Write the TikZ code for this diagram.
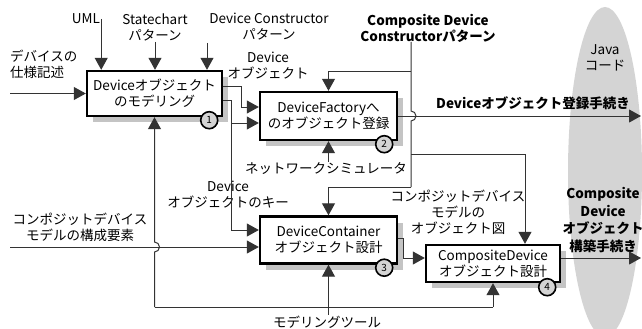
\documentclass[tikz,border=0pt]{standalone}
\usepackage{fontspec}
\setmainfont{Noto Sans CJK JP}
\usetikzlibrary{calc,arrows.meta,shadows}
\definecolor{wire}{HTML}{333333}
\definecolor{halftone}{HTML}{D4D4D4}
\definecolor{shadowgray}{HTML}{C4C4C4}
\newcommand{\dgmfont}{\fontsize{13.5}{16}\selectfont}

\begin{document}
\begin{tikzpicture}[x=1pt, y=-1pt, >={Triangle[length=12pt, width=13pt]},
    wire/.style={draw=wire, line width=1pt},
    flow/.style={wire, ->},
    activity/.style={draw=black, line width=2.4pt, fill=white, align=center, inner sep=1pt,
        font=\dgmfont, drop shadow={shadow xshift=6pt, shadow yshift=-6pt, fill=shadowgray, opacity=1}},
    num/.style={circle, draw=black, line width=1.6pt, fill=halftone, minimum size=17pt,
        inner sep=0pt, font=\fontsize{10}{10}\selectfont},
    lab/.style={align=center, font=\dgmfont, inner sep=1pt},
    blab/.style={align=center, font=\dgmfont\bfseries, inner sep=1pt}]
    \useasboundingbox (0,0) rectangle (642,329);

    % Java code region
    \fill[halftone] (605,172) ellipse [x radius=37, y radius=165];
    \node[lab] (java) at (605,58) {Java\\コード};

    % activities
    \node[activity, minimum width=135pt, minimum height=45pt] (b1) at (154.5,93.5) {Deviceオブジェクト\\のモデリング};
    \node[activity, minimum width=137pt, minimum height=48pt] (b2) at (328.5,116) {DeviceFactoryへ\\のオブジェクト登録};
    \node[activity, minimum width=137pt, minimum height=47pt] (b3) at (328.5,240) {DeviceContainer\\オブジェクト設計};
    \node[activity, minimum width=134pt, minimum height=37pt] (b4) at (493,263.5) {CompositeDevice\\オブジェクト設計};

    \node[num] (n1) at ($(b1.south east)+(-14,3)$) {1};
    \node[num] (n2) at ($(b2.south east)+(-14,3)$) {2};
    \node[num] (n3) at ($(b3.south east)+(-14,3)$) {3};
    \node[num] (n4) at ($(b4.south east)+(-14,4)$) {4};

    % labels
    \node[lab] (uml) at (86,19) {UML};
    \node[lab] (stc) at (155,27) {Statechart\\パターン};
    \node[lab] (dcp) at (269,27) {Device Constructor\\パターン};
    \node[blab] (cdcp) at (428,28) {Composite Device\\Constructorパターン};
    \node[lab, align=left, anchor=west] (spec) at (9,64) {デバイスの\\仕様記述};
    \node[lab] (devobj) at (268,66) {Device\\オブジェクト};
    \node[lab] (netsim) at (326,169) {ネットワークシミュレータ};
    \node[lab] (devkey) at (228,195) {Device\\オブジェクトのキー};
    \node[lab] (cdparts) at (80,227) {コンポジットデバイス\\モデルの構成要素};
    \node[lab] (cdobj) at (458,212) {コンポジットデバイス\\モデルの\\オブジェクト図};
    \node[blab] (regproc) at (533,103) {Deviceオブジェクト登録手続き};
    \node[blab, font=\fontsize{13.5}{17.5}\selectfont\bfseries] (cdproc) at (603,220) {Composite\\Device\\オブジェクト\\構築手続き};
    \node[lab] (tool) at (327,322) {モデリングツール};

    % controls into b1
    \draw[flow] (uml.east) -- (uml.east |- b1.north);
    \draw[flow] (stc.south) -- (stc.south |- b1.north);
    \coordinate (dcin) at (207,43);
    \draw[flow] (dcin) -- (dcin |- b1.north);
    \coordinate (specin) at (10,93.5);
    \draw[flow] (specin) -- (b1.west);

    % outputs of b1
    \draw[flow] ($(b1.east)+(0,-7.5)$) -- ++(18,0) |- ($(b2.west)+(0,-9)$);
    \draw[flow] ($(b1.east)+(0,7)$) -- ++(8,0) coordinate (keysplit) |- ($(b2.west)+(0,7)$);
    \draw[flow] (keysplit) |- ($(b3.west)+(0,-10)$);

    % composite device constructor pattern
    \coordinate (cdc) at (411,42);
    \coordinate (tap2) at (411,71);
    \coordinate (tap4) at (411,154);
    \coordinate (cdcend) at (411,187);
    \draw[wire] (cdc) -- ($(cdc |- b2.east)+(0,-5)$) arc[start angle=-90, end angle=90, radius=5] -- (cdcend);
    \draw[flow] (tap2) -| (b2.north);
    \draw[flow] (tap4) -| ($(b4.north)+(32,0)$);
    \draw[flow] (cdcend) -| (b3.north);

    \draw[flow] (netsim.north -| b2.south) -- (b2.south);
    \coordinate (javain1) at (641,116);
    \draw[flow] (b2.east) -- (javain1);

    % b3 and b4
    \coordinate (partsin) at (10,247);
    \draw[flow] (partsin) -- ($(b3.west)+(0,7)$);
    \draw[flow] ($(b3.east)+(0,-2)$) -- ++(5,0) |- ($(b4.west)+(0,-5.5)$);
    \coordinate (javain2) at (641,258);
    \draw[flow] ($(b4.east)+(0,-5.5)$) -- (javain2);

    % modelling tool
    \coordinate (toolleft) at (154.5,307);
    \coordinate (toolright) at (493,307);
    \draw[wire] (toolleft) -- (toolright);
    \draw[flow] (tool.north -| b3.south) -- (b3.south);
    \draw[flow] (toolright) -- (b4.south);
    \draw[flow] (toolleft) -- ($(toolleft |- partsin)+(0,5)$) arc[start angle=90, end angle=-90, radius=5] -- (b1.south);
\end{tikzpicture}
\end{document}
